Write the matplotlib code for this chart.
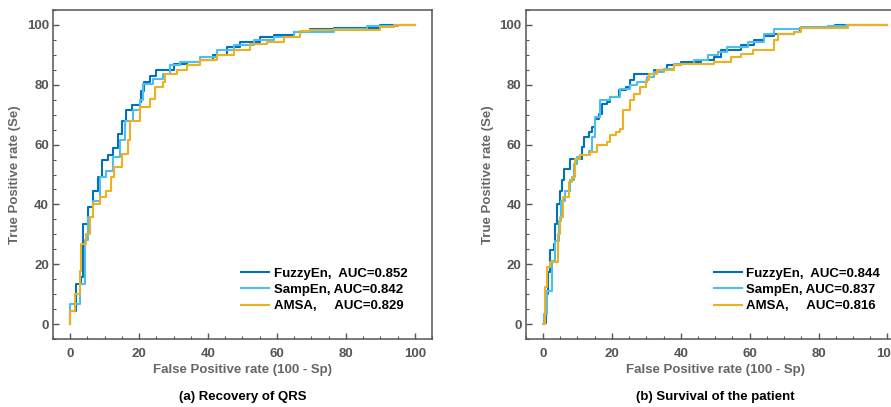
import numpy as np
import matplotlib.pyplot as plt
from matplotlib.ticker import MultipleLocator

plt.rcParams['font.family'] = ['Liberation Sans', 'DejaVu Sans']
plt.rcParams['font.weight'] = 'bold'

# ROC corner points, (a) Recovery of QRS
qrs_fuzzy_x = [0, 1.7, 3.2, 3.7, 4.9, 5.1, 6.6, 8.1, 9.3, 11, 12.4, 13.9, 14.9, 16.3, 17.8, 20.2,
               20.5, 21.4, 23.1, 25, 28, 30, 33.8, 37.7, 41.5, 45.4, 49.3, 55, 59, 65, 69.7, 76.5, 90, 100]
qrs_fuzzy_y = [0, 4.5, 13.4, 15.6, 33.5, 33.5, 39, 44.6, 49, 54.7, 56.4, 59, 63.6, 68, 71.4, 73.1,
               74.2, 78, 81, 83.1, 84.8, 84.8, 87, 87.6, 88.2, 89.8, 92.6, 94.3, 96, 96.8, 97.7, 98.8, 99, 100]
qrs_samp_x = [0, 2.7, 4.2, 5.1, 6.6, 8.5, 10.5, 12.4, 14.4, 15.8, 18.3, 20.2, 21.2, 24.1, 26.9, 28.9,
              31.8, 37.7, 42.5, 47.4, 53.2, 59, 65, 76.5, 86.2, 95, 100]
qrs_samp_y = [0, 6.7, 13.4, 28, 35.7, 41.3, 49, 51.3, 55.8, 61.4, 68, 71.4, 74.8, 80.4, 82, 83.7,
              86.5, 87.6, 89.3, 91.5, 93.2, 95.1, 96, 97.7, 98.8, 99.6, 100]
qrs_amsa_x = [0, 1.3, 2.7, 3.2, 4.7, 5.6, 6.6, 8.5, 10.5, 11.9, 12.8, 14.9, 16.8, 17.3, 20.2, 23.1,
              24.6, 26.9, 27.5, 30.9, 33.8, 37.7, 42.5, 47.4, 52.2, 57, 62, 66.8, 69.7, 84.3, 90, 94, 100]
qrs_amsa_y = [0, 4.5, 10, 17.9, 26.8, 30, 35.7, 40.2, 42.4, 44.6, 49, 52.5, 56.9, 61.4, 68, 72.5,
              75.3, 79.2, 80.9, 83.7, 84.8, 86.5, 88.2, 89.8, 91.5, 93.75, 94.3, 96, 98, 98.4, 98.4, 99.3, 100]

# (b) Survival of the patient
surv_fuzzy_x = [0.2, 1, 1.4, 2.1, 3.1, 3.6, 4.1, 4.9, 5.5, 6.2, 8, 10.4, 11.4, 12, 13.3, 14.3, 15.2,
                16.2, 17.2, 18.6, 19.6, 22, 24, 25.4, 26.4, 30.3, 32.2, 36.1, 40, 45.8, 49.7, 51.7,
                57.5, 61.4, 64.3, 67.2, 73, 74.5, 83.7, 84.7, 100]
surv_fuzzy_y = [0, 0.5, 10, 17.3, 24.6, 26.8, 33.5, 40.2, 44.6, 48, 51.9, 55.2, 55.2, 59.2, 62.5, 64.2,
                65.8, 68.6, 70.3, 73.7, 74.2, 75.9, 78.1, 79.2, 81.5, 83.7, 83.7, 84.8, 86.5, 87.6,
                88.2, 89.3, 91.5, 93.2, 94.9, 96.2, 97.1, 97.7, 99, 99.3, 100]
surv_samp_x = [0.2, 1.2, 2.6, 3.6, 4.6, 5.2, 6.5, 8, 8.9, 9.9, 10.9, 13.3, 14.3, 15.2, 16.7, 19.6,
               22.5, 25.4, 27.4, 30.3, 32.2, 35.1, 38.1, 43.9, 47.8, 50.7, 53.4, 59.4, 64.3, 67.2,
               75, 82.7, 88, 100]
surv_samp_y = [0, 3.3, 11.2, 21.2, 27.9, 34.6, 41.3, 44.6, 48, 53.6, 55.8, 56.4, 58, 62.5, 69.2, 74.8,
               75.9, 78.7, 79.8, 80.9, 82.6, 84.3, 85.4, 87, 88.2, 89.8, 91, 92.6, 94.3, 97.1, 98.8,
               99.3, 99.6, 100]
surv_amsa_x = [0, 0.5, 1.2, 2.1, 3.6, 4.3, 5, 5.8, 7.5, 8.4, 9.4, 10.9, 13.8, 15.7, 18.6, 19.6, 21.1,
               22.5, 23.3, 25.4, 26.4, 28.3, 29.8, 30.8, 33.2, 38.1, 40, 49.7, 54.6, 57.5, 60.9,
               64.3, 67.2, 68.2, 73, 75, 88, 88.5, 100]
surv_amsa_y = [0, 0, 12.3, 19, 20.6, 20.6, 30.1, 35.7, 42.4, 47.4, 49.1, 55.2, 56.4, 57.5, 59.7, 60.8,
               63.1, 64.2, 65.3, 71.4, 74.8, 77, 79.2, 81.5, 83.7, 84.8, 86.5, 87, 87.6, 89.3, 90.4,
               91.5, 91.5, 94.9, 97.1, 97.7, 99, 99, 100]

labels = ['FuzzyEn,  AUC=', 'SampEn, AUC=', 'AMSA,     AUC=']
auc_qrs = [0.852, 0.842, 0.829]
auc_surv = [0.844, 0.837, 0.816]
colors = ['#0072BD', '#4DBEEE', '#EDB120']

panels = [
    ('(a) Recovery of QRS', auc_qrs,
     [(qrs_fuzzy_x, qrs_fuzzy_y), (qrs_samp_x, qrs_samp_y), (qrs_amsa_x, qrs_amsa_y)]),
    ('(b) Survival of the patient', auc_surv,
     [(surv_fuzzy_x, surv_fuzzy_y), (surv_samp_x, surv_samp_y), (surv_amsa_x, surv_amsa_y)]),
]

W, H = 891, 407
fig = plt.figure(figsize=(W / 100, H / 100), dpi=100)
lefts = [53, 525.7]
for (title, aucs, curves), left in zip(panels, lefts):
    # right panel runs past the figure edge, as in the original
    ax = fig.add_axes([left / W, (H - 339) / H, 379 / W, 329 / H])
    for (x, y), lab, auc, c in zip(curves, labels, aucs, colors):
        # ROC curves: step up then right
        ax.plot(x, y, drawstyle='steps-pre', color=c, lw=1.5, label=f'{lab}{auc:.3f}')
    ax.set_xlim(-5, 105)
    ax.set_ylim(-5, 105)
    ax.xaxis.set_major_locator(MultipleLocator(20))
    ax.xaxis.set_minor_locator(MultipleLocator(5))
    ax.yaxis.set_major_locator(MultipleLocator(20))
    ax.yaxis.set_minor_locator(MultipleLocator(5))
    ax.tick_params(which='both', direction='in', top=False, right=False, colors='#555555',
                   labelsize=9.5)
    ax.tick_params(which='major', length=4, width=1)
    ax.tick_params(which='minor', length=2.5, width=0.8)
    ax.tick_params(axis='x', pad=6.5)
    ax.tick_params(axis='y', pad=3)
    for s in ax.spines.values():
        s.set_color('#555555')
        s.set_linewidth(1.1)
    ax.set_xlabel('False Positive rate (100 - Sp)', color='#666666', fontsize=9.5,
                  fontweight='bold', labelpad=3)
    ax.set_ylabel('True Positive rate (Se)', color='#666666', fontsize=9.5,
                  fontweight='bold', labelpad=4)
    leg = ax.legend(loc='center left', bbox_to_anchor=(0.497, 0.149), frameon=False,
                    fontsize=9.5, handlelength=2.1, handletextpad=0.35, labelspacing=0.3,
                    borderpad=0, borderaxespad=0)
    for t in leg.get_texts():
        t.set_fontweight('bold')
    ax.text(0.5, -0.176, title, transform=ax.transAxes, ha='center', va='center',
            fontsize=9.5, fontweight='bold', color='black')

fig.savefig('out.png', dpi=100)
